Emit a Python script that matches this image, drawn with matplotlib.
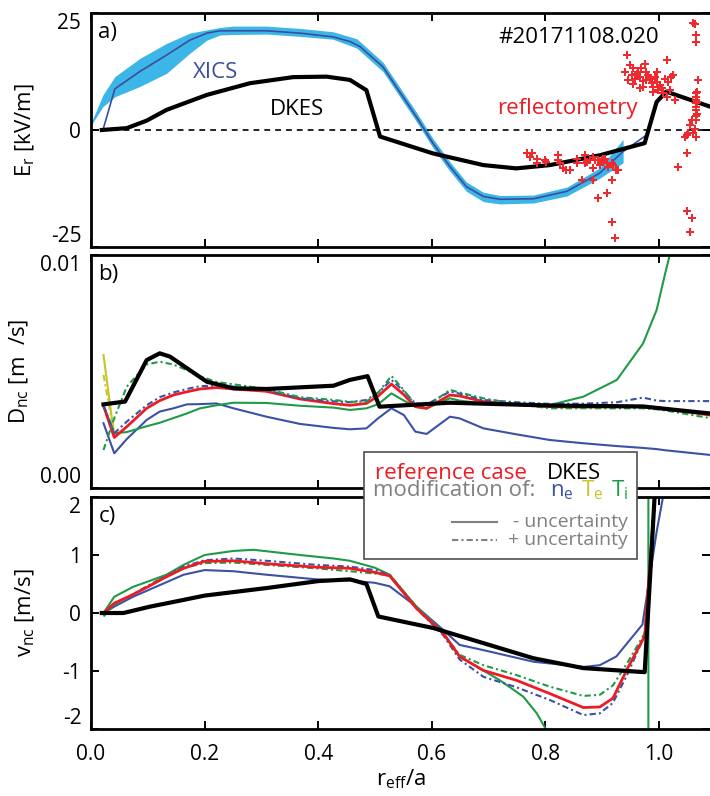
import matplotlib
matplotlib.use("Agg")
from matplotlib import pyplot as plt
from matplotlib.patches import Rectangle
from matplotlib.lines import Line2D

plt.rcParams['font.family'] = ['Open Sans', 'DejaVu Sans']
plt.rcParams['mathtext.fontset'] = 'custom'
plt.rcParams['mathtext.rm'] = 'Open Sans'
plt.rcParams['mathtext.it'] = 'Open Sans:italic'
plt.rcParams['axes.unicode_minus'] = False

# ---------------- data ----------------
# a) E_r
xics_band_x = [0.0, 0.021, 0.042, 0.086, 0.133, 0.174, 0.204, 0.227, 0.25, 0.309, 0.368, 0.426, 0.468,
               0.514, 0.573, 0.602, 0.632, 0.661, 0.691, 0.72, 0.779, 0.838, 0.896, 0.937]
xics_hi = [1.5, 7.5, 11.4, 15.3, 18.5, 20.7, 21.4, 21.9, 22.2, 22.2, 21.7, 21.0, 19.5,
           14.5, 3.8, -1.8, -6.8, -11.1, -13.3, -14.0, -13.9, -12.2, -8.1, -2.0]
xics_lo = [1.0, 5.0, 7.1, 9.3, 12.1, 16.4, 19.2, 20.3, 20.4, 20.5, 20.0, 19.4, 17.5,
           12.5, 1.8, -3.8, -8.8, -13.1, -15.3, -15.8, -15.6, -14.1, -10.3, -7.0]
xics_x = [0.021, 0.042, 0.086, 0.133, 0.174, 0.204, 0.227, 0.309, 0.368, 0.426, 0.456, 0.474, 0.514,
          0.573, 0.602, 0.632, 0.661, 0.691, 0.72, 0.779, 0.838, 0.896, 0.937, 0.978]
xics_er = [0.0, 8.8, 12.5, 16.0, 19.2, 20.7, 21.2, 21.2, 20.7, 19.9, 18.9, 17.8, 13.5,
           2.8, -2.8, -7.8, -12.1, -14.2, -14.8, -14.7, -13.1, -9.2, -4.6, -1.1]

dkes_a_x = [0.019, 0.063, 0.098, 0.133, 0.204, 0.28, 0.356, 0.415, 0.456, 0.485, 0.509, 0.602, 0.691,
            0.749, 0.808, 0.896, 0.975, 0.996, 1.013, 1.09]
dkes_a_y = [0.0, 0.4, 2.0, 4.3, 7.5, 10.0, 11.3, 11.4, 10.7, 8.5, -1.4, -5.0, -7.5,
            -8.2, -7.5, -5.4, -2.8, 6.0, 8.2, 5.0]

refl_x = [0.767, 0.773, 0.776, 0.785, 0.785, 0.799, 0.802, 0.823, 0.823, 0.826, 0.831, 0.837, 0.843,
          0.855, 0.855, 0.870, 0.870, 0.873, 0.879, 0.884, 0.887, 0.896, 0.899, 0.905, 0.908, 0.911,
          0.917, 0.920, 0.928, 0.917, 0.884, 0.864, 0.908, 0.893, 0.917, 0.923, 0.893, 0.902, 0.925,
          0.884,
          0.940, 0.943, 0.949, 0.955, 0.952, 0.958, 0.964, 0.967, 0.969, 0.975, 0.978, 0.978, 0.981,
          0.984, 0.987, 0.990, 0.993, 0.996, 0.996, 0.999, 1.002, 1.005, 1.008, 1.011, 1.014, 1.014,
          1.016, 1.019, 1.022, 1.025, 1.028, 0.946, 0.972, 0.967, 0.990, 0.961, 0.972, 0.955,
          1.060, 1.063, 1.066, 1.065, 1.069, 1.067, 1.066, 1.065, 1.066, 1.067, 1.065, 1.058, 1.055,
          1.049, 1.052, 1.060, 1.066, 1.063, 1.049, 1.034, 1.049, 1.059, 1.055, 1.066, 1.066, 1.066,
          1.065, 1.067, 1.046]
refl_y = [-5.0, -5.7, -5.0, -6.1, -7.1, -6.4, -6.8, -5.3, -6.4, -7.1, -8.2, -8.5, -8.5,
          -6.1, -7.1, -5.3, -7.1, -6.8, -6.4, -8.2, -6.4, -7.5, -6.4, -6.1, -7.1, -7.8,
          -7.1, -7.5, -8.5, -10.7, -10.7, -10.7, -13.5, -14.6, -19.6, -23.1, -6.4, -6.1, -8.5,
          -5.7,
          12.5, 16.0, 13.9, 13.2, 11.7, 11.0, 12.5, 11.4, 13.2, 14.2, 12.5, 10.7, 11.7,
          11.0, 10.0, 9.2, 11.4, 10.3, 12.5, 8.5, 9.6, 8.9, 7.8, 11.0, 14.9, 7.1,
          10.3, 8.5, 11.4, 11.7, 6.4, 10.7, 9.2, 8.9, 8.2, 12.0, 10.5, 9.9,
          22.8, 22.6, 20.3, 18.7, 10.7, 8.2, 7.1, 5.7, 4.3, 3.5, 2.1, 2.1, 1.0,
          -1.1, -0.7, -0.7, -1.4, 0.3, -5.0, -7.8, -17.4, -18.9, -21.7, 6.4, 5.0, 7.8,
          3.0, 6.0, -1.4]

# b) D_nc  (units of 1e-3 m^2/s)
xb = [0.022, 0.041, 0.063, 0.098, 0.121, 0.145, 0.169, 0.192, 0.221, 0.251, 0.309, 0.368, 0.427,
      0.456, 0.485, 0.506, 0.529, 0.551, 0.571, 0.591, 0.632, 0.649, 0.691, 0.75, 0.808, 0.867,
      0.926, 0.972, 0.996, 1.011, 1.09]
d_ref = [3.53, 2.17, 2.63, 3.42, 3.75, 3.99, 4.13, 4.25, 4.31, 4.25, 4.15, 3.82, 3.62,
         3.55, 3.63, 3.95, 4.46, 4.0, 3.49, 3.42, 3.99, 3.95, 3.71, 3.58, 3.49, 3.47,
         3.49, 3.49, 3.45, 3.4, 3.13]
d_ne_p = [3.53, 2.35, 2.85, 3.55, 3.9, 4.1, 4.25, 4.37, 4.4, 4.35, 4.2, 3.85, 3.72,
          3.68, 3.78, 4.1, 4.64, 4.15, 3.63, 3.58, 4.14, 4.05, 3.78, 3.68, 3.61, 3.62,
          3.68, 3.88, 3.75, 3.73, 3.73]
d_ne_m = [2.78, 1.49, 2.1, 2.92, 3.28, 3.42, 3.59, 3.6, 3.63, 3.42, 3.06, 2.75, 2.58,
          2.52, 2.56, 3.0, 3.42, 3.13, 2.42, 2.32, 3.06, 2.99, 2.56, 2.3, 2.06, 1.92,
          1.8, 1.72, 1.67, 1.62, 1.42]
d_ti_p = [1.63, 3.0, 4.35, 5.3, 5.42, 5.3, 5.06, 4.8, 4.55, 4.45, 4.25, 3.9, 3.78,
          3.7, 3.71, 4.1, 4.81, 4.2, 3.56, 3.5, 4.21, 4.1, 3.85, 3.6, 3.42, 3.42,
          3.42, 3.42, 3.38, 3.33, 3.0]
d_ti_m = [3.53, 2.35, 2.4, 2.65, 2.8, 3.0, 3.2, 3.42, 3.55, 3.66, 3.65, 3.53, 3.45,
          3.35, 3.42, 3.6, 4.06, 3.75, 3.49, 3.42, 3.85, 3.75, 3.63, 3.58, 3.56, 3.92,
          4.64, 6.2, 7.64, 9.2, 17.0]
te_x = [0.022, 0.041]
d_te_m = [5.71, 2.2]
d_te_p = [4.85, 2.3]
dkes_b_x = [0.022, 0.060, 0.098, 0.121, 0.139, 0.169, 0.204, 0.251, 0.309, 0.427, 0.456, 0.487,
            0.508, 0.632, 0.808, 0.972, 1.03, 1.09]
dkes_b_y = [3.59, 3.71, 5.49, 5.78, 5.64, 5.14, 4.56, 4.28, 4.25, 4.39, 4.64, 4.8,
            3.49, 3.66, 3.54, 3.5, 3.35, 3.2]

# c) v_nc
xc = [0.022, 0.041, 0.07, 0.1, 0.128, 0.163, 0.2, 0.251, 0.309, 0.397, 0.456, 0.5, 0.526,
      0.573, 0.62, 0.649, 0.691, 0.749, 0.808, 0.867, 0.896, 0.919, 0.945, 0.975, 0.9935]
v_ref = [0.0, 0.17, 0.3, 0.45, 0.6, 0.77, 0.89, 0.90, 0.85, 0.79, 0.77, 0.7, 0.64,
         0.08, -0.35, -0.75, -0.99, -1.16, -1.39, -1.63, -1.62, -1.47, -0.95, -0.4, 2.1]
v_ne_p = [0.0, 0.15, 0.3, 0.47, 0.62, 0.8, 0.91, 0.94, 0.9, 0.83, 0.8, 0.74, 0.66,
          0.08, -0.38, -0.8, -1.1, -1.28, -1.5, -1.76, -1.73, -1.55, -1.05, -0.38, 2.1]
v_ti_p = [-0.06, 0.14, 0.3, 0.45, 0.63, 0.78, 0.86, 0.87, 0.83, 0.77, 0.72, 0.68, 0.65,
          0.11, -0.35, -0.72, -0.9, -1.07, -1.27, -1.43, -1.41, -1.25, -0.85, -0.35, 2.1]
v_ti_m_x = [0.022, 0.041, 0.074, 0.133, 0.163, 0.2, 0.251, 0.286, 0.368, 0.427, 0.456, 0.5, 0.526,
            0.573, 0.62, 0.649, 0.72, 0.761, 0.785, 0.802, 0.85, 0.981, 0.982, 1.0]
v_ti_m = [0.0, 0.28, 0.45, 0.66, 0.83, 1.0, 1.07, 1.09, 1.0, 0.94, 0.9, 0.78, 0.66,
          0.11, -0.33, -0.75, -1.16, -1.44, -1.73, -2.02, -3.5, -60.0, 60.0, 30.0]
v_ne_m_x = [0.022, 0.041, 0.074, 0.128, 0.163, 0.2, 0.251, 0.309, 0.397, 0.456, 0.5, 0.526,
            0.573, 0.62, 0.649, 0.691, 0.779, 0.867, 0.896, 0.925, 0.971, 0.996, 1.011]
v_ne_m = [0.0, 0.11, 0.28, 0.51, 0.66, 0.74, 0.72, 0.66, 0.58, 0.56, 0.52, 0.46,
          0.11, -0.29, -0.55, -0.64, -0.84, -0.93, -0.90, -0.75, -0.2, 1.4, 2.2]
dkes_c_x = [0.019, 0.057, 0.104, 0.15, 0.2, 0.309, 0.4, 0.456, 0.485, 0.506, 0.603, 0.691,
            0.779, 0.867, 0.975, 0.993]
dkes_c_y = [0.0, 0.0, 0.11, 0.2, 0.3, 0.43, 0.55, 0.58, 0.50, -0.06, -0.26, -0.52,
            -0.78, -0.95, -1.02, 2.1]

# ---------------- style ----------------
c_band = '#3cb6e6'
c_xics = '#3b4da0'
c_red = '#ed1c24'
c_blue = '#3b52a4'
c_green = '#1f9a48'
c_yel = '#c8c42a'
c_gray = '#808080'
dashdot = (0, (3, 1.5, 1, 1.5))
W, H = 710, 796

fig = plt.figure(figsize=(7.1, 7.96), dpi=100)


def box(top, bottom):
    return [91 / W, 1 - bottom / H, 619 / W, (bottom - top) / H]


ax_a = fig.add_axes(box(13, 247))
ax_b = fig.add_axes(box(255, 488))
ax_c = fig.add_axes(box(497, 729))

# a)
ax_a.fill_between(xics_band_x, xics_lo, xics_hi, color=c_band, lw=0)
ax_a.plot(xics_x, xics_er, color=c_xics, lw=1.2)
ax_a.axhline(0, color='black', lw=1.2, ls=(0, (3.5, 3)))
ax_a.plot(dkes_a_x, dkes_a_y, color='black', lw=3)
ax_a.plot(refl_x, refl_y, ls='none', marker='P', ms=6, color='#ee2a2e', mew=0)
ax_a.set_ylim(-25, 25)
ax_a.set_yticks([-25, 0, 25])
ax_a.text(0.717, 19.7, '#20171108.020', fontsize=16, va='center')
ax_a.text(0.18, 12.2, 'XICS', fontsize=16, va='center', color=c_xics)
ax_a.text(0.315, 4.3, 'DKES', fontsize=16, va='center')
ax_a.text(0.715, 4.5, 'reflectometry', fontsize=16, va='center', color=c_red)
ax_a.set_ylabel('E$_\\mathrm{r}$ [kV/m]', fontsize=16)
ax_a.yaxis.set_label_coords(-0.088, 0.5)

# b)
scale = 1e-3
ax_b.plot(te_x, [v * scale for v in d_te_m], color=c_yel, lw=1.5)
ax_b.plot(te_x, [v * scale for v in d_te_p], color=c_yel, lw=1.5, ls=dashdot)
ax_b.plot(xb, [v * scale for v in d_ne_m], color=c_blue, lw=1.5)
ax_b.plot(xb, [v * scale for v in d_ti_m], color=c_green, lw=1.5)
ax_b.plot(xb, [v * scale for v in d_ref], color=c_red, lw=2)
ax_b.plot(xb, [v * scale for v in d_ne_p], color=c_blue, lw=1.5, ls=dashdot)
ax_b.plot(xb, [v * scale for v in d_ti_p], color=c_green, lw=1.5, ls=dashdot)
ax_b.plot(dkes_b_x, [v * scale for v in dkes_b_y], color='black', lw=3)
ax_b.set_ylim(0, 0.01)
ax_b.set_yticks([0, 0.01])
ax_b.set_yticklabels(['0.00', '0.01'])
ax_b.set_ylabel('D$_\\mathrm{nc}$ [m  /s]', fontsize=16)
ax_b.yaxis.set_label_coords(-0.097, 0.5)

# c)
ax_c.plot(xc, v_ref, color=c_red, lw=2, zorder=3)
ax_c.plot(v_ne_m_x, v_ne_m, color=c_blue, lw=1.5)
ax_c.plot(v_ti_m_x, v_ti_m, color=c_green, lw=1.5)
ax_c.plot(xc, v_ne_p, color=c_blue, lw=1.5, ls=dashdot)
ax_c.plot(xc, v_ti_p, color=c_green, lw=1.5, ls=dashdot)
ax_c.plot(dkes_c_x, dkes_c_y, color='black', lw=3, zorder=4)
ax_c.set_ylim(-2, 2)
ax_c.set_yticks([-2, -1, 0, 1, 2])
ax_c.set_ylabel('v$_\\mathrm{nc}$ [m/s]', fontsize=16)
ax_c.yaxis.set_label_coords(-0.088, 0.5)
ax_c.set_xlabel('r$_\\mathrm{eff}$/a', fontsize=16)
ax_c.xaxis.set_label_coords(0.5, -0.165)

for ax, lab in zip([ax_a, ax_b, ax_c], ['a)', 'b)', 'c)']):
    ax.set_xlim(0, 1.09)
    ax.set_xticks([0.0, 0.2, 0.4, 0.6, 0.8, 1.0])
    ax.set_xticklabels(['0.0', '0.2', '0.4', '0.6', '0.8', '1.0'])
    ax.tick_params(direction='in', length=6, width=1.4, top=True, right=True,
                   labelsize=15, pad=7)
    ax.tick_params(axis='x', pad=11)
    for s in ax.spines.values():
        s.set_linewidth(2)
    ax.spines['right'].set_visible(False)
    ax.text(0.012, 0.96, lab, transform=ax.transAxes, fontsize=16, va='top')
    ticks = ax.yaxis.get_major_ticks()
    ticks[0].label1.set_verticalalignment('bottom')
    ticks[-1].label1.set_verticalalignment('top')
    if ax is not ax_c:
        ax.tick_params(labelbottom=False)


# legend box drawn in figure pixels
def fx(px):
    return px / W


def fy(py):
    return 1 - py / H


fig.add_artist(Rectangle((fx(364), fy(559)), fx(637) - fx(364), fy(452) - fy(559),
                         transform=fig.transFigure, facecolor='white',
                         edgecolor='#505050', lw=1.2, zorder=5))
fig.text(fx(375), fy(479), 'reference case', color=c_red, fontsize=16, va='baseline', zorder=6)
fig.text(fx(547), fy(479), 'DKES', color='black', fontsize=16, va='baseline', zorder=6)
fig.text(fx(373), fy(496), 'modification of:', color=c_gray, fontsize=16, va='baseline', zorder=6)
fig.text(fx(550), fy(496), 'n$_\\mathrm{e}$', color=c_blue, fontsize=16, va='baseline', zorder=6)
fig.text(fx(581), fy(496), 'T$_\\mathrm{e}$', color=c_yel, fontsize=16, va='baseline', zorder=6)
fig.text(fx(611), fy(496), 'T$_\\mathrm{i}$', color=c_green, fontsize=16, va='baseline', zorder=6)
fig.add_artist(Line2D([fx(452), fx(497)], [fy(522), fy(522)], transform=fig.transFigure,
                      color=c_gray, lw=1.5, zorder=6))
fig.add_artist(Line2D([fx(452), fx(497)], [fy(540), fy(540)], transform=fig.transFigure,
                      color=c_gray, lw=1.5, ls=dashdot, zorder=6))
fig.text(fx(628), fy(527), '- uncertainty', color=c_gray, fontsize=14, ha='right',
         va='baseline', zorder=6)
fig.text(fx(628), fy(545), '+ uncertainty', color=c_gray, fontsize=14, ha='right',
         va='baseline', zorder=6)

fig.savefig('out.png', dpi=100)
